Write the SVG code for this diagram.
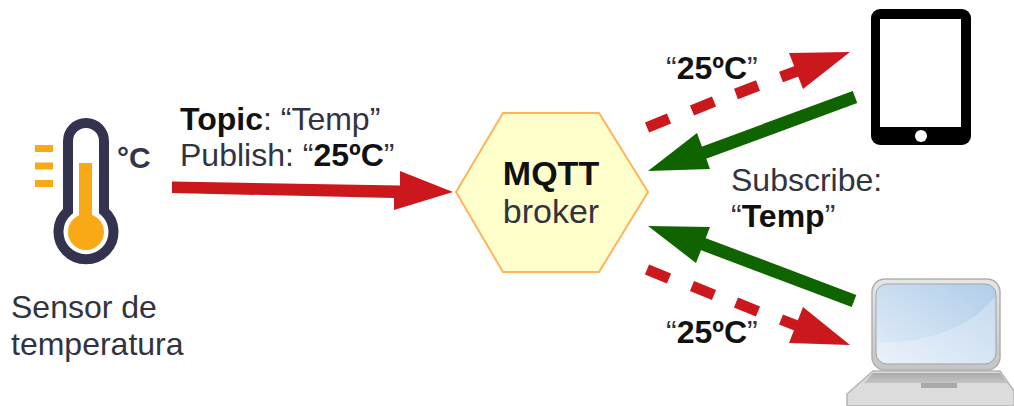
<svg xmlns="http://www.w3.org/2000/svg" width="1014" height="406" viewBox="0 0 1014 406">
<style>
text{font-family:"Liberation Sans",Arial,sans-serif;font-size:32px;fill:#333340}
.b{font-weight:700;fill:#111}
.red{fill:#cb181d}
.green{fill:#0f6400}
.d{stroke:#cb181d;stroke-width:11;fill:none}
.g{stroke:#0f6400;stroke-width:13;fill:none}
</style>
<defs>
<linearGradient id="s" x1="0" y1="1" x2="1" y2="0"><stop offset="0" stop-color="#e3edf8"/><stop offset="1" stop-color="#b0cdea"/></linearGradient>
<linearGradient id="l" x1="0" y1="0" x2="0" y2="1"><stop offset="0" stop-color="#e6e6e6"/><stop offset="1" stop-color="#c4c4c4"/></linearGradient>
<linearGradient id="k" x1="0" y1="0" x2="0" y2="1"><stop offset="0" stop-color="#aaa"/><stop offset="1" stop-color="#c4c4c4"/></linearGradient>
</defs>
<rect width="1014" height="406" fill="#fff"/>
<g id="sensor">
<path d="M68 211V141a18 18 0 0 1 36 0V211A27.500 27.500 0 1 1 68 211Z" fill="#fff" stroke="#33334f" stroke-width="10"/>
<rect x="79" y="163" width="13" height="60" fill="#faa916"/>
<circle cx="86" cy="232" r="18" fill="#faa916"/>
<path d="M35 148.500h18M35 166h18M35 183.500h18" stroke="#faa916" stroke-width="7"/>
<text x="117" y="168" style="font-size:30px;font-weight:700;fill:#33334f">°C</text>
<text x="11" y="318">Sensor de</text>
<text x="11" y="355">temperatura</text>
</g>
<g id="broker">
<polygon points="456,192 503,113 599,113 648,192 599,272 503,272" fill="#ffffcc" stroke="#ffb35c" stroke-width="2"/>
<text x="551" y="185" text-anchor="middle" class="b" style="font-size:34px">MQTT</text>
<text x="551" y="223" text-anchor="middle" style="font-size:34px">broker</text>
</g>
<g id="tablet">
<rect x="871" y="9" width="100" height="136" rx="9" fill="#000"/>
<rect x="880" y="19" width="81" height="108" fill="#fff"/>
<circle cx="921" cy="136" r="6" fill="#fff"/>
</g>
<g id="laptop">
<path d="M873 371H1000L1014 391V406H847V394Z" fill="#dcdcdc" stroke="#b5b5b5" stroke-width="1.500"/>
<path d="M873 373H1000L1007 383H864Z" fill="url(#k)"/>
<rect x="921" y="383" width="36" height="5" fill="#a9a9a9"/>
<rect x="872" y="279" width="128" height="91" rx="13" fill="url(#l)" stroke="#b0b0b0" stroke-width="1.500"/>
<rect x="876" y="284" width="120" height="80" rx="11" fill="url(#s)" stroke="#a5a5a5" stroke-width="1"/>
<path d="M877 342C925 344 970 328 995 297V352a11 11 0 0 1-11 11H888a11 11 0 0 1-11-11Z" fill="#fff" opacity=".25"/>
</g>
<g id="labels">
<text x="180" y="130"><tspan class="b">Topic</tspan>: “Temp”</text>
<text x="180" y="166">Publish: “<tspan class="b">25ºC</tspan>”</text>
<text x="666" y="79">“<tspan class="b">25ºC</tspan>”</text>
<text x="731" y="191">Subscribe:</text>
<text x="731" y="227">“<tspan class="b">Temp</tspan>”</text>
<text x="666" y="343">“<tspan class="b">25ºC</tspan>”</text>
</g>
<g id="connectors">
<path class="red" d="M172 181.500L400 185.500V171L453 192L394 210V198L172 193Z"/>
<path class="g" d="M855 97L695 156"/>
<polygon class="green" points="648,171 697,133 710,169"/>
<path class="d" d="M647 127.500L669 118.500M692 110.500L714 101.500M736 94L758 85.500M781 77L800 70"/>
<polygon class="red" points="850,52 789,53 803,89"/>
<path class="g" d="M854 301L695 241"/>
<polygon class="green" points="648,226 710,227 696,263"/>
<path class="d" d="M647 269.500L669 278.500M692 286L714 295M736 302.500L758 311.500M781 319.500L800 327"/>
<polygon class="red" points="850,345 803,307 789,343"/>
</g>
</svg>
